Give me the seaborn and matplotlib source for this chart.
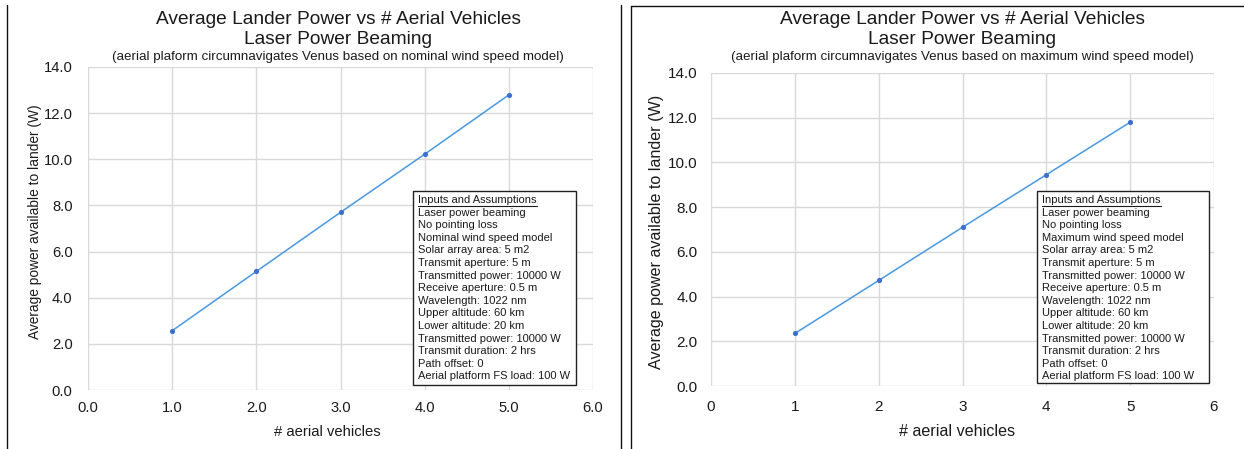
import matplotlib
matplotlib.use("Agg")
import matplotlib.pyplot as plt
import seaborn as sns
import pandas as pd
from matplotlib.lines import Line2D

# ---------------- data ----------------
vehicles = [1, 2, 3, 4, 5]
power_nominal = [2.57, 5.14, 7.70, 10.22, 12.79]
power_maximum = [2.35, 4.72, 7.10, 9.45, 11.80]

title_line1 = "Average Lander Power vs # Aerial Vehicles"
title_line2 = "Laser Power Beaming"
subtitle_nominal = "(aerial plaform circumnavigates Venus based on nominal wind speed model)"
subtitle_maximum = "(aerial plaform circumnavigates Venus based on maximum wind speed model)"
xlabel = "# aerial vehicles"
ylabel = "Average power available to lander (W)"

box_title = "Inputs and Assumptions"
assumptions_nominal = [
    "Laser power beaming", "No pointing loss", "Nominal wind speed model",
    "Solar array area: 5 m2", "Transmit aperture: 5 m", "Transmitted power: 10000 W",
    "Receive aperture: 0.5 m", "Wavelength: 1022 nm", "Upper altitude: 60 km",
    "Lower altitude: 20 km", "Transmitted power: 10000 W", "Transmit duration: 2 hrs",
    "Path offset: 0", "Aerial platform FS load: 100 W",
]
assumptions_maximum = [
    "Laser power beaming", "No pointing loss", "Maximum wind speed model",
    "Solar array area: 5 m2", "Transmit aperture: 5 m", "Transmitted power: 10000 W",
    "Receive aperture: 0.5 m", "Wavelength: 1022 nm", "Upper altitude: 60 km",
    "Lower altitude: 20 km", "Transmitted power: 10000 W", "Transmit duration: 2 hrs",
    "Path offset: 0", "Aerial platform FS load: 100 W",
]

xticks = [0, 1, 2, 3, 4, 5, 6]
yticks = [0, 2, 4, 6, 8, 10, 12, 14]

# ---------------- style ----------------
sns.set_theme(style="white")
plt.rcParams['font.family'] = ['Liberation Sans', 'DejaVu Sans']

W, H = 1244, 449
fig = plt.figure(figsize=(W / 100, H / 100), dpi=100)
fig.patch.set_facecolor("white")

LINE_C = "#4a98e0"
MARK_C = "#3d6fcc"
GRID_C = "#d9d9d9"
TXT_C = "#1a1a1a"


def px_axes(x0, y0, x1, y1):
    return fig.add_axes([x0 / W, 1 - y1 / H, (x1 - x0) / W, (y1 - y0) / H])


def fx(x):
    return x / W


def fy(y):
    return 1 - y / H


def draw_panel(ax, values, xfmt, tick_fs, xpad, ypad, label_fs, ylab_fs, ylab_x, ylab_y,
               xlab_c, cx, subtitle, lines, box):
    df = pd.DataFrame({"n": vehicles, "p": values})
    sns.lineplot(data=df, x="n", y="p", ax=ax, color=LINE_C, linewidth=1.1, zorder=3)
    sns.scatterplot(data=df, x="n", y="p", ax=ax, color=MARK_C, s=14,
                    edgecolor=MARK_C, linewidth=0, zorder=4)
    ax.set_xlim(0, 6)
    ax.set_ylim(0, 14)
    ax.set_xticks(xticks)
    ax.set_yticks(yticks)
    ax.set_xticklabels([xfmt.format(v) for v in xticks], fontsize=tick_fs)
    ax.set_yticklabels(["{:.1f}".format(v) for v in yticks], fontsize=tick_fs)
    ax.grid(True, color=GRID_C, linewidth=1.0)
    ax.set_axisbelow(True)
    for s in ax.spines.values():
        s.set_visible(False)
    ax.tick_params(axis="x", length=0, pad=xpad, colors=TXT_C)
    ax.tick_params(axis="y", length=0, pad=ypad, colors=TXT_C)
    ax.set_xlabel(xlabel, fontsize=label_fs, color=TXT_C)
    ax.set_ylabel(ylabel, fontsize=ylab_fs, color=TXT_C)
    pos = ax.get_position()
    x0, y0, x1, y1 = pos.x0 * W, (1 - pos.y1) * H, pos.x1 * W, (1 - pos.y0) * H
    ax.yaxis.set_label_coords((ylab_x - x0) / (x1 - x0), (y1 - ylab_y) / (y1 - y0))
    ax.xaxis.set_label_coords((xlab_c - x0) / (x1 - x0), -(432 - y1) / (y1 - y0))
    ax.xaxis.label.set_va("center")
    ax.yaxis.label.set_va("center")

    fig.text(fx(cx), fy(20), title_line1, ha="center", va="center", fontsize=13.8, color=TXT_C)
    fig.text(fx(cx), fy(40), title_line2, ha="center", va="center", fontsize=13.8, color=TXT_C)
    fig.text(fx(cx), fy(57), subtitle, ha="center", va="center", fontsize=9.6, color=TXT_C)

    # assumptions box
    bx0, by0, bx1, by1 = box
    rect = plt.Rectangle((fx(bx0), fy(by1)), fx(bx1 - bx0), (by1 - by0) / H,
                         transform=fig.transFigure, facecolor="white",
                         edgecolor="#222222", linewidth=1.0, zorder=5)
    fig.add_artist(rect)
    tx = bx0 + 5
    ty = by0 + 9
    step = 12.6
    t = fig.text(fx(tx), fy(ty), box_title, ha="left", va="center", fontsize=8.0,
                 color=TXT_C, zorder=6)
    fig.canvas.draw()
    bb = t.get_window_extent()
    fig.add_artist(Line2D([bb.x0 / W, bb.x1 / W], [(bb.y0 - 0.5) / H, (bb.y0 - 0.5) / H],
                          transform=fig.transFigure, color=TXT_C, linewidth=0.8, zorder=6))
    for i, line in enumerate(lines):
        fig.text(fx(tx), fy(ty + step * (i + 1)), line, ha="left", va="center",
                 fontsize=8.0, color=TXT_C, zorder=6)


ax1 = px_axes(88, 67, 593, 390)
draw_panel(ax1, power_nominal, "{:.1f}", 10.6, 8, 11, 10.6, 9.9, 35, 222, 327, 338,
           subtitle_nominal, assumptions_nominal, (413, 191, 576, 385))

ax2 = px_axes(711, 73, 1214, 386)
draw_panel(ax2, power_maximum, "{:d}", 11, 10, 9.5, 11.6, 11.6, 657, 232, 957, 962,
           subtitle_maximum, assumptions_maximum, (1037, 191, 1209, 383))

# panel frames
def fline(xs, ys):
    fig.add_artist(Line2D([fx(x) for x in xs], [fy(y) for y in ys],
                          transform=fig.transFigure, color="#111111", linewidth=1.0))

fline([7, 7], [5, 449])
fline([621, 621], [5, 449])
fline([631, 631], [6, 449])
fline([631, 1244], [6, 6])

fig.savefig("out.png", dpi=100, facecolor="white")
